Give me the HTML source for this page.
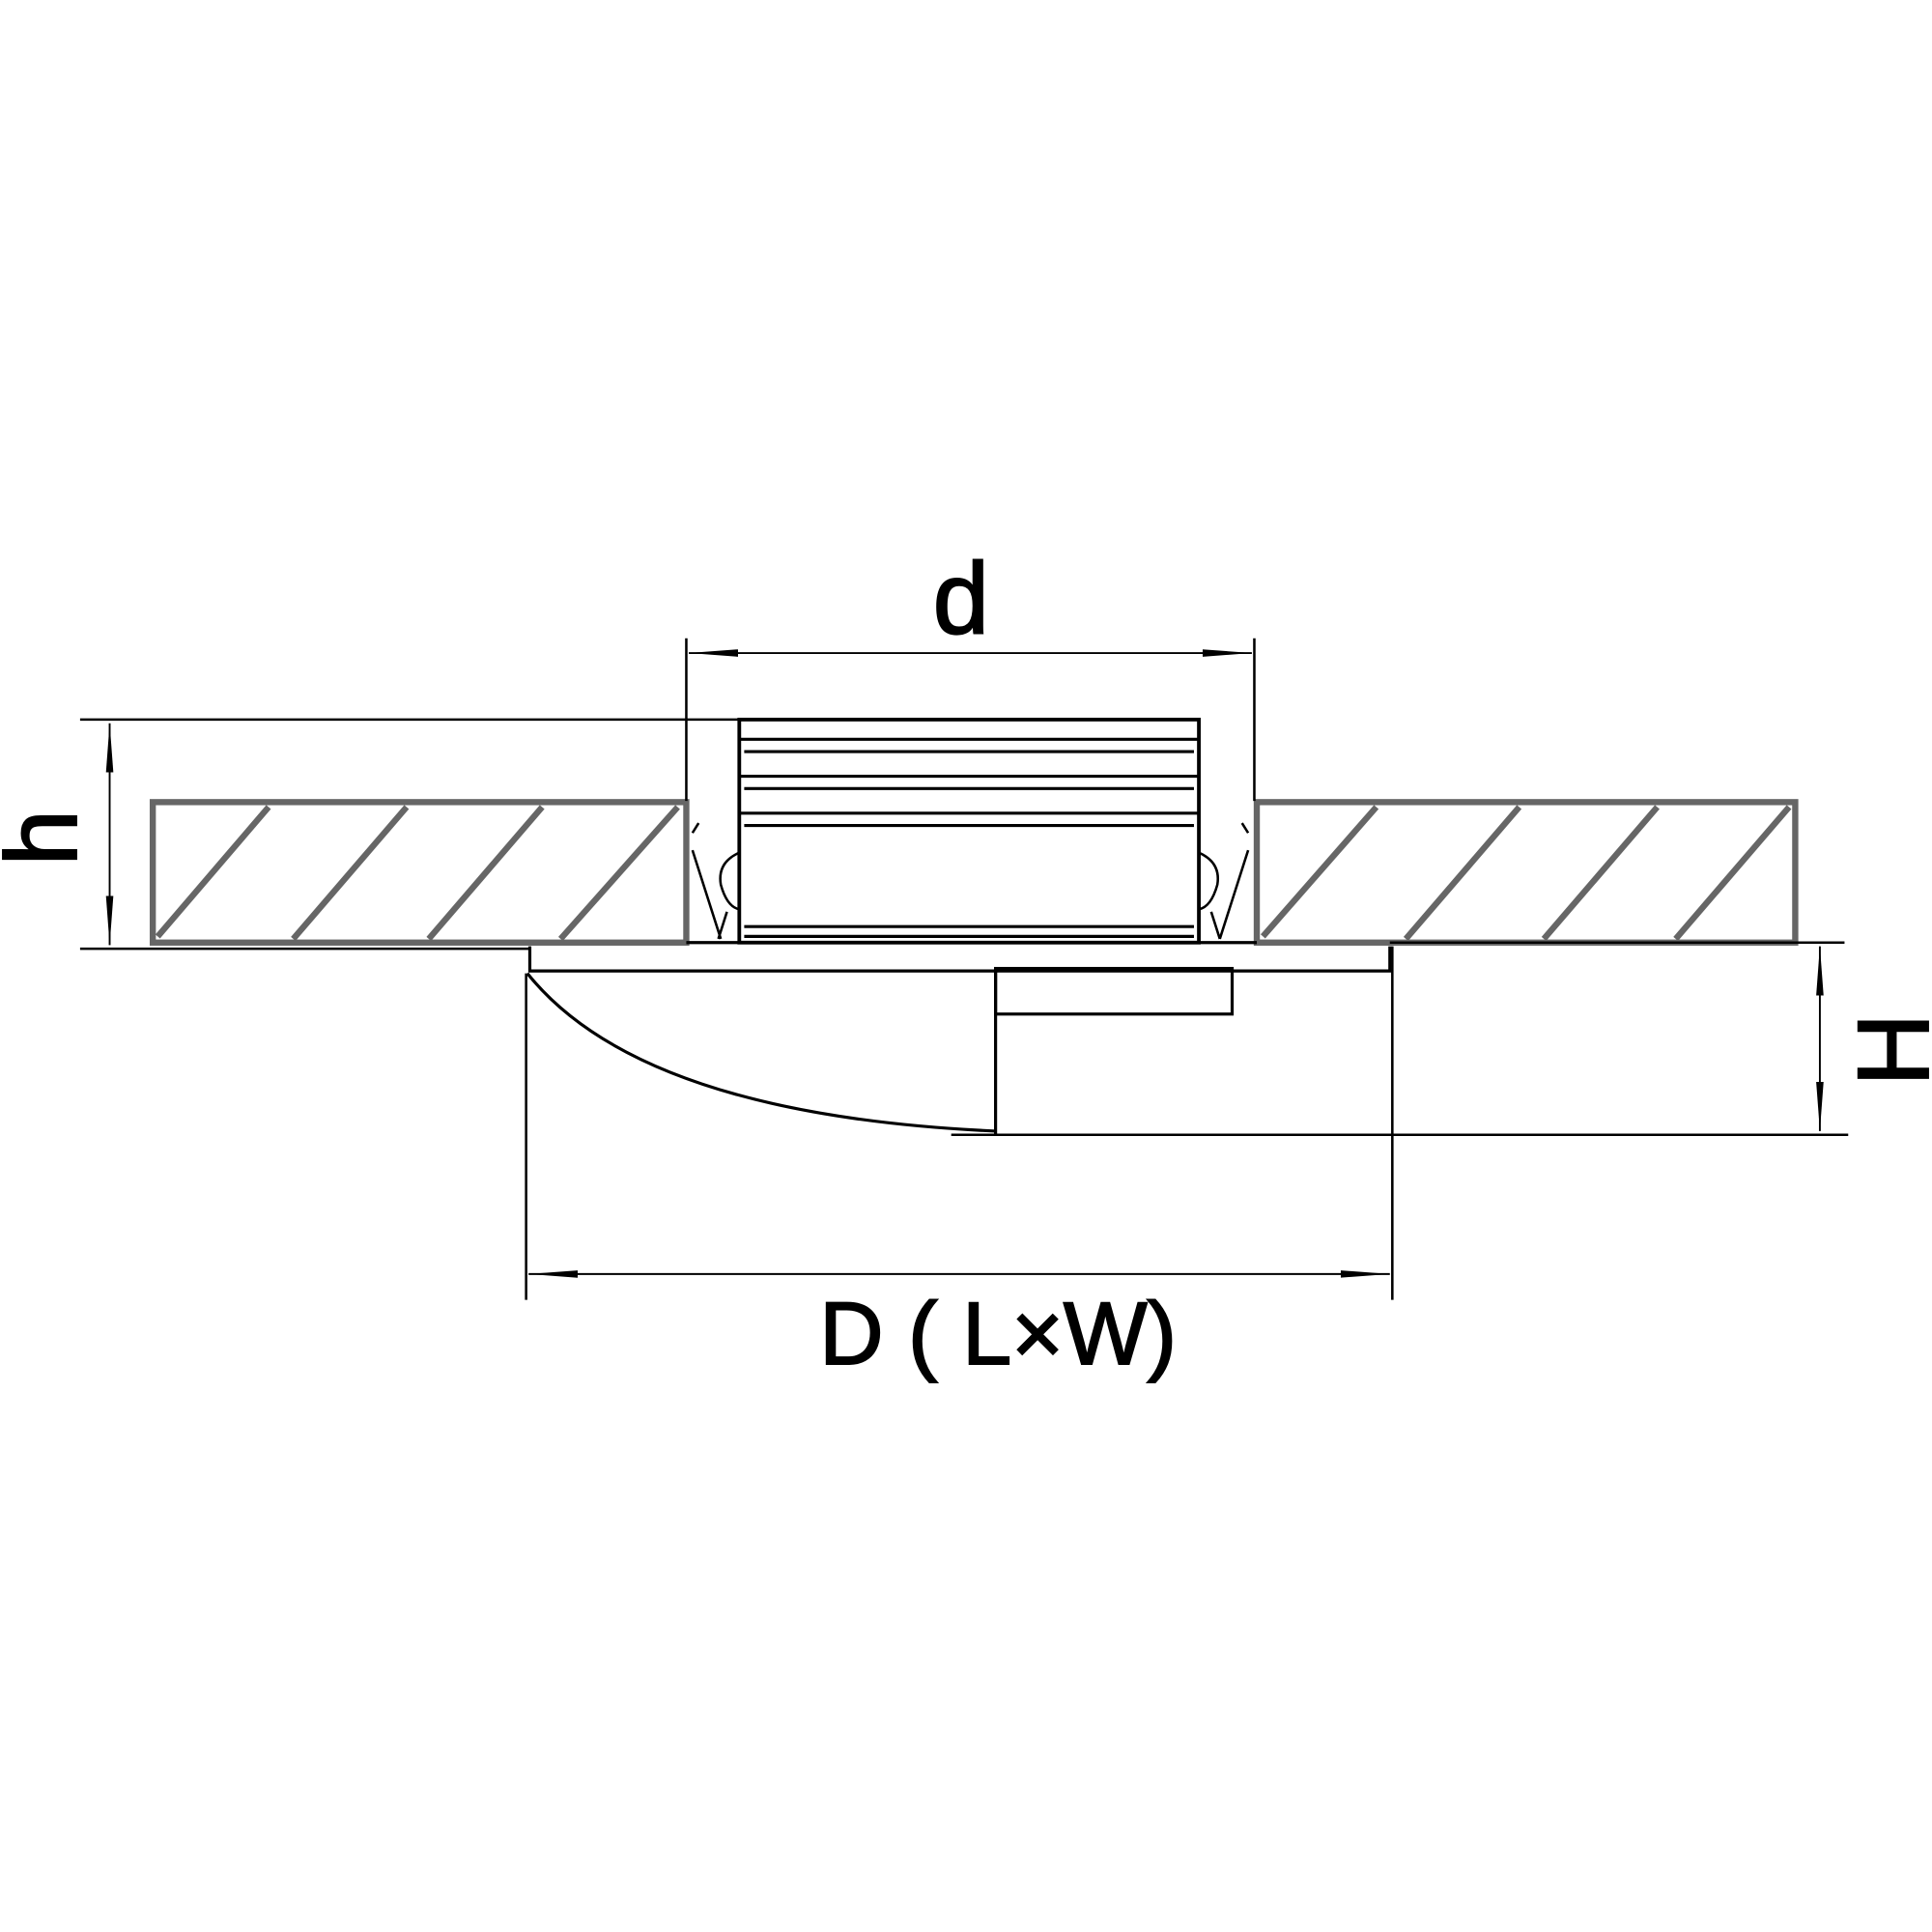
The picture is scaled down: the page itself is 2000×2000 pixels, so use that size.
<!DOCTYPE html>
<html><head><meta charset="utf-8"><style>html,body{margin:0;padding:0;background:#fff}svg{display:block}</style></head>
<body>
<svg width="2000" height="2000" viewBox="0 0 1568 1568" xmlns="http://www.w3.org/2000/svg">
<defs>
<marker id="a" viewBox="0 0 40 10" refX="40" refY="5" markerWidth="40" markerHeight="10" markerUnits="userSpaceOnUse" orient="auto-start-reverse"><path d="M0,2 L40,5 L0,8 Z" fill="#000"/></marker>
</defs>
<g stroke="#666" stroke-width="5" fill="none">
<rect x="124" y="651" width="433" height="114"/>
<line x1="128" y1="760" x2="218" y2="655"/><line x1="238" y1="762" x2="330" y2="655"/><line x1="348" y1="762" x2="440" y2="655"/><line x1="455" y1="762" x2="550" y2="655"/>
<rect x="1020" y="651" width="437" height="114"/>
<line x1="1025" y1="760" x2="1117" y2="655"/><line x1="1141" y1="762" x2="1233" y2="655"/><line x1="1253" y1="762" x2="1345" y2="655"/><line x1="1360" y1="762" x2="1452" y2="655"/>
</g>
<g stroke="#000" stroke-width="2" fill="none">
<line x1="65" y1="584" x2="600" y2="584"/>
<line x1="65" y1="770" x2="430" y2="770"/>
<line x1="89" y1="587" x2="89" y2="767" marker-start="url(#a)" marker-end="url(#a)" stroke-width="1.5"/>
<line x1="557" y1="518" x2="557" y2="650"/><line x1="1018" y1="518" x2="1018" y2="650"/>
<line x1="559" y1="530" x2="1016" y2="530" marker-start="url(#a)" marker-end="url(#a)" stroke-width="1.5"/>
<rect x="600" y="584" width="373" height="181" stroke-width="3"/>
<line x1="600" y1="600" x2="973" y2="600" stroke-width="2.5"/><line x1="604" y1="610" x2="969" y2="610" stroke-width="2.5"/>
<line x1="600" y1="630" x2="973" y2="630" stroke-width="2.5"/><line x1="604" y1="640" x2="969" y2="640" stroke-width="2.5"/>
<line x1="600" y1="660" x2="973" y2="660" stroke-width="2.5"/><line x1="604" y1="670" x2="969" y2="670" stroke-width="2.5"/>
<line x1="604" y1="752" x2="969" y2="752" stroke-width="2.5"/><line x1="604" y1="760" x2="969" y2="760" stroke-width="2.5"/>
<path d="M600,692 Q582,700 585,718 Q590,736 600,738"/>
<path d="M562,690 L585,762 M590,740 L583,762 M567,668 L562,676"/>
<path d="M973,692 Q991,700 988,718 Q983,736 973,738"/>
<path d="M1013,690 L990,762 M983,740 L990,762 M1008,668 L1013,676"/>
<line x1="557" y1="765" x2="1020" y2="765" stroke-width="2.5"/>
<line x1="1128" y1="765" x2="1497" y2="765"/>
<path d="M430,768 L430,788 L1128,788 L1128,768" stroke-width="2.5"/>
<rect x="808" y="786" width="192" height="37" stroke-width="2.5"/>
<line x1="808" y1="786" x2="808" y2="920" stroke-width="2.5"/>
<path d="M428,790 Q520,905 808,918" stroke-width="2.5"/>
<line x1="772" y1="921" x2="1500" y2="921"/>
<line x1="1477" y1="768" x2="1477" y2="918" marker-start="url(#a)" marker-end="url(#a)" stroke-width="1.5"/>
<line x1="427" y1="790" x2="427" y2="1055"/><line x1="1130" y1="768" x2="1130" y2="1055"/>
<line x1="429" y1="1034" x2="1128" y2="1034" marker-start="url(#a)" marker-end="url(#a)" stroke-width="1.5"/>
</g>
<g font-family="'Liberation Sans', sans-serif" fill="#000" stroke="#000" stroke-width="1.5">
<text x="780" y="514" font-size="82" text-anchor="middle">d</text>
<text x="0" y="0" font-size="82" text-anchor="middle" transform="translate(62,680) rotate(-90)">h</text>
<text x="0" y="0" font-size="82" text-anchor="middle" transform="translate(1565,852) rotate(-90)">H</text>
<text x="810" y="1107" font-size="72" text-anchor="middle">D ( L×W)</text>
</g>
</svg>
</body></html>
